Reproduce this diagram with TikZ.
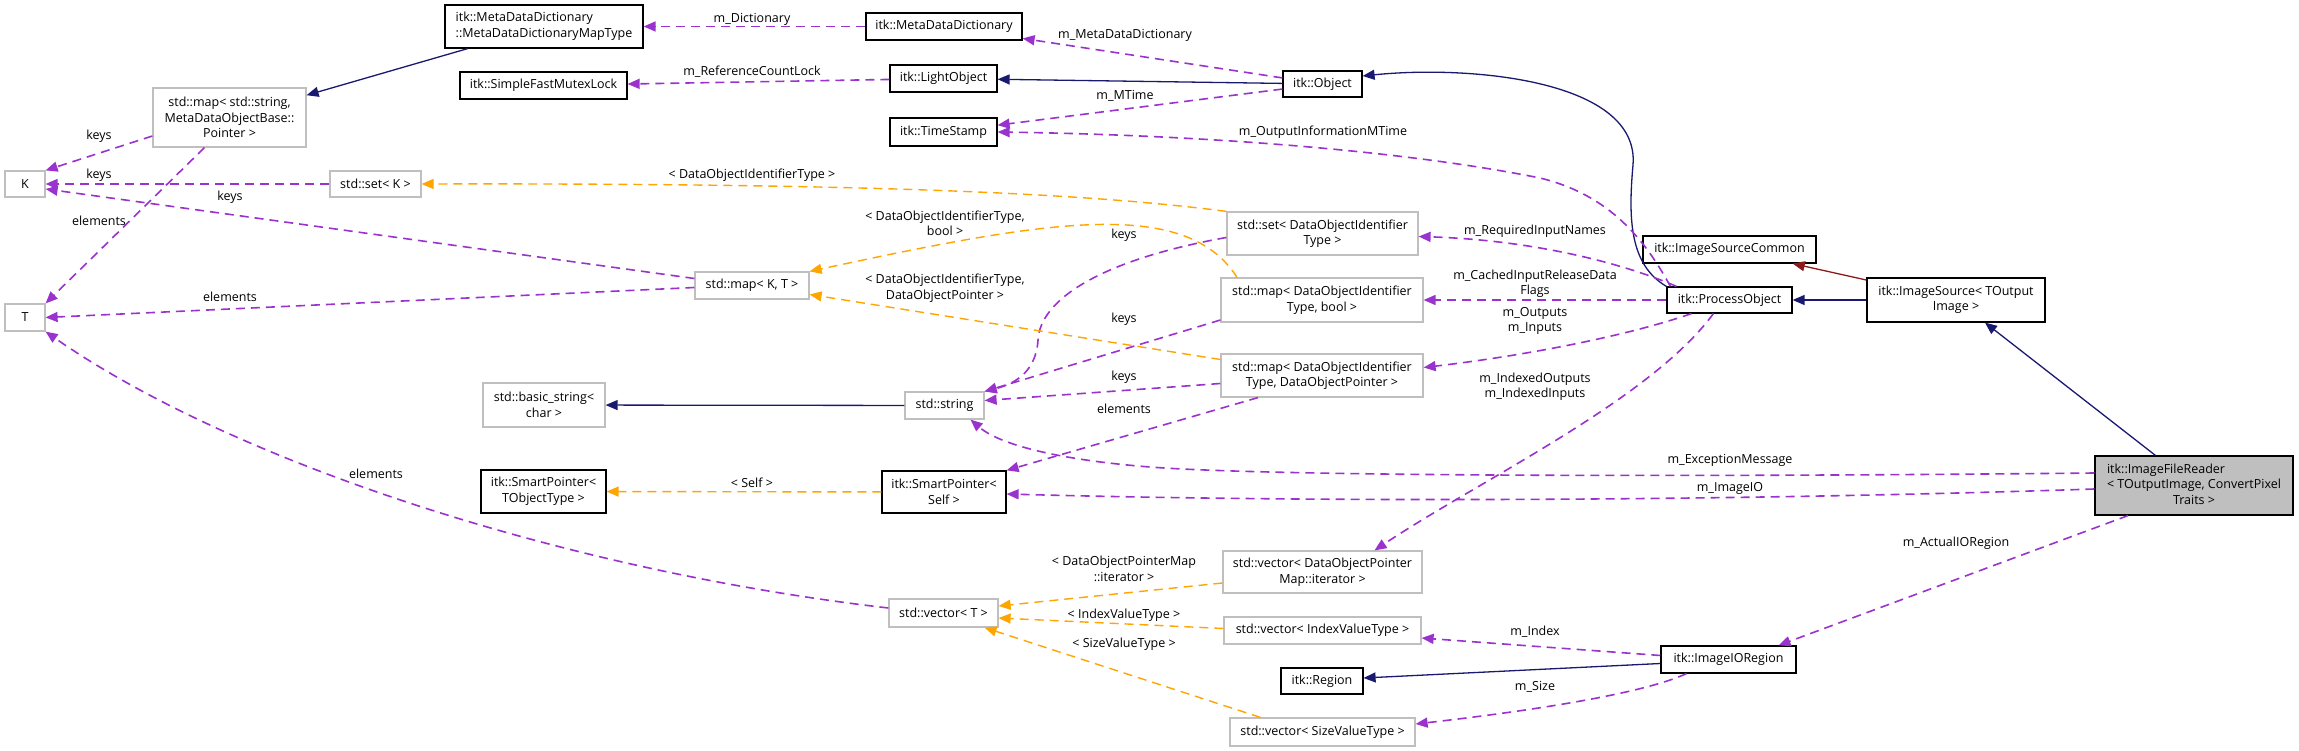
\documentclass[tikz,border=0pt]{standalone}
\usepackage{fontspec}
\setmainfont{Open Sans}
\usetikzlibrary{arrows.meta}
\definecolor{mbr}{HTML}{9A32CD}
\definecolor{tmplc}{HTML}{FFA500}
\definecolor{inhc}{HTML}{191970}
\definecolor{privc}{HTML}{8B1A1A}
\definecolor{gline}{HTML}{BFBFBF}
\newcommand{\dfont}{\fontsize{12.5}{15.5}\selectfont}

\begin{document}
\begin{tikzpicture}[x=1pt, y=-1pt,
    every node/.style={font=\dfont},
    doc/.style={rectangle, draw=black, line width=1.2pt, fill=white,
      inner sep=2pt, align=center},
    undoc/.style={doc, draw=gline},
    lbl/.style={inner sep=0pt, align=center},
    mem/.style={-{Triangle[length=12pt,width=10pt]}, draw=mbr,
      line width=1.6pt, dash pattern=on 9pt off 6pt},
    tmpl/.style={mem, draw=tmplc, line width=1.4pt},
    inh/.style={-{Triangle[length=12pt,width=10pt]}, draw=inhc, line width=1.3pt},
    priv/.style={inh, draw=privc}]
  \fill[white] (0,0) rectangle (2299,751);
  \useasboundingbox (0,0) rectangle (2299,751);

  % classes
  \node[doc, align=left, minimum width=198pt, minimum height=43pt] (mapType) at (544,26.5)
    {itk::MetaDataDictionary\\::MetaDataDictionaryMapType};
  \node[doc, minimum width=156pt, minimum height=27pt] (mdd) at (944,26.5) {itk::MetaDataDictionary};
  \node[doc, minimum width=167pt, minimum height=27pt] (mutex) at (543.5,85.5) {itk::SimpleFastMutexLock};
  \node[doc, minimum width=107pt, minimum height=27pt] (light) at (943.5,78.5) {itk::LightObject};
  \node[doc, minimum width=79pt, minimum height=26pt] (object) at (1322.5,84) {itk::Object};
  \node[doc, minimum width=107pt, minimum height=28pt] (stamp) at (943.5,132) {itk::TimeStamp};
  \node[undoc, minimum width=153pt, minimum height=59pt] (strmap) at (229.5,117.5)
    {std::map< std::string,\\MetaDataObjectBase::\\Pointer >};
  \node[undoc, minimum width=40pt, minimum height=26pt] (K) at (25,184) {K};
  \node[undoc, minimum width=91pt, minimum height=26pt] (setK) at (375.5,184) {std::set< K >};
  \node[undoc, minimum width=40pt, minimum height=27pt] (T) at (25,317.5) {T};
  \node[undoc, minimum width=114pt, minimum height=27pt] (mapKT) at (752,285.5) {std::map< K, T >};
  \node[undoc, minimum width=191pt, minimum height=43pt] (setId) at (1322.5,233.5)
    {std::set< DataObjectIdentifier\\Type >};
  \node[undoc, minimum width=202pt, minimum height=44pt] (mapBool) at (1322,300)
    {std::map< DataObjectIdentifier\\Type, bool >};
  \node[undoc, minimum width=202pt, minimum height=43pt] (mapPtr) at (1322,375.5)
    {std::map< DataObjectIdentifier\\Type, DataObjectPointer >};
  \node[doc, minimum width=173pt, minimum height=27pt] (isCommon) at (1729.5,249.5) {itk::ImageSourceCommon};
  \node[doc, minimum width=125pt, minimum height=26pt] (process) at (1729.5,300) {itk::ProcessObject};
  \node[doc, minimum width=178pt, minimum height=44pt] (source) at (1956,300)
    {itk::ImageSource< TOutput\\Image >};
  \node[undoc, minimum width=122pt, minimum height=44pt] (basicStr) at (544,405)
    {std::basic\_string<\\char >};
  \node[doc, minimum width=125pt, minimum height=43pt] (spT) at (543.5,491.5)
    {itk::SmartPointer<\\TObjectType >};
  \node[undoc, minimum width=79pt, minimum height=27pt] (string) at (944.5,405.5) {std::string};
  \node[doc, minimum width=124pt, minimum height=42pt] (spSelf) at (944,492)
    {itk::SmartPointer<\\Self >};
  \node[undoc, minimum width=199pt, minimum height=42pt] (vecIter) at (1322.5,572)
    {std::vector< DataObjectPointer\\Map::iterator >};
  \node[undoc, minimum width=109pt, minimum height=28pt] (vecT) at (943.5,613) {std::vector< T >};
  \node[undoc, minimum width=197pt, minimum height=27pt] (vecIdx) at (1322.5,630.5)
    {std::vector< IndexValueType >};
  \node[doc, minimum width=82pt, minimum height=26pt] (region) at (1322,681) {itk::Region};
  \node[undoc, minimum width=185pt, minimum height=28pt] (vecSize) at (1322.5,732)
    {std::vector< SizeValueType >};
  \node[doc, fill=gline, minimum width=198pt, minimum height=59pt] (reader) at (2194,485.5)
    {\begin{tabular}{@{}l@{}}itk::ImageFileReader\\< TOutputImage, ConvertPixel\\
     \multicolumn{1}{@{}c@{}}{Traits >}\end{tabular}};
  \node[doc, minimum width=135pt, minimum height=27pt] (ioRegion) at (1728.5,659.5) {itk::ImageIORegion};

  % inheritance
  \draw[inh] (mapType) -- (strmap);
  \draw[inh] (object) -- (light);
  \draw[inh] (process.north west) .. controls (1630,265) and (1628,220) .. (1633,165)
    .. controls (1640,80) and (1470,65) .. ([yshift=8pt]object.east);
  \draw[inh] (source) -- (process);
  \draw[priv] (source) -- (isCommon);
  \draw[inh] (reader) -- (source);
  \draw[inh] (string) -- (basicStr);
  \draw[inh] ([yshift=-4pt]ioRegion.west) -- ([yshift=3pt]region.east);

  % members
  \draw[mem] (mdd) -- (mapType);
  \draw[mem] (object) -- (mdd);
  \draw[mem] (light) -- (mutex);
  \draw[mem] (object) -- (stamp);
  \draw[mem] ([xshift=4pt]process.north west) .. controls (1645,240) and (1610,195) .. (1540,178)
    .. controls (1400,150) and (1200,135) .. (stamp.east);
  \draw[mem] ([xshift=10pt]process.north west) .. controls (1620,262) and (1530,240)
    .. ([yshift=-3pt]setId.east);
  \draw[mem] (process) -- (mapBool);
  \draw[mem] ([xshift=25pt]process.south west) .. controls (1630,335) and (1530,355)
    .. ([yshift=8pt]mapPtr.east);
  \draw[mem] ([xshift=47pt]process.south west) .. controls (1650,400) and (1480,480)
    .. ([xshift=52pt]vecIter.north);
  \draw[mem] (setK) -- (K);
  \draw[mem] ([yshift=-18.5pt]strmap.west) -- (K.north east);
  \draw[mem] ([xshift=-25pt]strmap.south) -- (T.north east);
  \draw[mem] ([yshift=7pt]mapKT.west) -- ([yshift=-5pt]K.east);
  \draw[mem] ([yshift=-2pt]mapKT.west) -- (T.east);
  \draw[mem] ([yshift=5pt]vecT.west) .. controls (560,570) and (230,460) .. (T.south east);
  \draw[mem] ([yshift=-4pt]setId.west) .. controls (1100,260) and (1040,300) .. (1038,340)
    .. controls (1036,375) and (1010,385) .. (string.north east);
  \draw[mem] ([yshift=-20pt]mapBool.west) -- (string.north east);
  \draw[mem] ([yshift=-8pt]mapPtr.west) -- ([yshift=5pt]string.east);
  \draw[mem] ([xshift=-64pt]mapPtr.south) -- (spSelf.north east);
  \draw[mem] ([yshift=12.5pt]reader.west) .. controls (1600,478) and (1250,475) .. (1150,467)
    .. controls (1060,460) and (1000,445) .. ([xshift=26pt]string.south);
  \draw[mem] ([yshift=-3.5pt]reader.west) .. controls (1700,502) and (1300,502)
    .. ([yshift=-2pt]spSelf.east);
  \draw[mem] ([xshift=-66pt]reader.south) -- ([xshift=50pt]ioRegion.north);
  \draw[mem] ([yshift=4pt]ioRegion.west) -- ([yshift=-7.5pt]vecIdx.east);
  \draw[mem] ([xshift=-42pt]ioRegion.south) .. controls (1640,695) and (1520,712)
    .. ([yshift=8pt]vecSize.east);

  % template instances
  \draw[tmpl] (setId.north west) .. controls (1100,195) and (900,183) .. (setK.east);
  \draw[tmpl] ([xshift=-85pt]mapBool.north) .. controls (1185,195) and (1040,222) .. (mapKT.north east);
  \draw[tmpl] ([yshift=16pt]mapPtr.west) -- ([yshift=-9pt]mapKT.east);
  \draw[tmpl] (spSelf) -- (spT);
  \draw[tmpl] ([yshift=-11pt]vecIter.west) -- ([yshift=7pt]vecT.east);
  \draw[tmpl] ([yshift=2pt]vecIdx.west) -- ([yshift=-5pt]vecT.east);
  \draw[tmpl] ([xshift=-62pt]vecSize.north) -- ([xshift=41pt]vecT.south);

  % edge labels
  \node[lbl] (lDict) at (752,19) {m\_Dictionary};
  \node[lbl] (lMdd) at (1125,35) {m\_MetaDataDictionary};
  \node[lbl] (lLock) at (752,72) {m\_ReferenceCountLock};
  \node[lbl] (lMTime) at (1125,96) {m\_MTime};
  \node[lbl] (lOutMTime) at (1323,132) {m\_OutputInformationMTime};
  \node[lbl] (lReq) at (1535,231) {m\_RequiredInputNames};
  \node[lbl] (lCached) at (1535,284) {m\_CachedInputReleaseData\\Flags};
  \node[lbl] (lOuts) at (1535,321) {m\_Outputs\\m\_Inputs};
  \node[lbl] (lIdxOuts) at (1535,387) {m\_IndexedOutputs\\m\_IndexedInputs};
  \node[lbl] (lSetKkeys) at (99,175) {keys};
  \node[lbl] (lStrKeys) at (99,136) {keys};
  \node[lbl] (lStrElem) at (99,221) {elements};
  \node[lbl] (lKTkeys) at (230,197) {keys};
  \node[lbl] (lKTelem) at (230,297) {elements};
  \node[lbl] (lVecElem) at (376,474) {elements};
  \node[lbl] (lSetId) at (752,175) {< DataObjectIdentifierType >};
  \node[lbl] (lBool) at (945,223.5) {< DataObjectIdentifierType,\\bool >};
  \node[lbl] (lPtr) at (945,288) {< DataObjectIdentifierType,\\DataObjectPointer >};
  \node[lbl] (lSetKeys) at (1124,235) {keys};
  \node[lbl] (lBoolKeys) at (1124,319) {keys};
  \node[lbl] (lPtrKeys) at (1124,377) {keys};
  \node[lbl] (lPtrElem) at (1124,409) {elements};
  \node[lbl] (lSelf) at (752,483) {< Self >};
  \node[lbl] (lExc) at (1730,460) {m\_ExceptionMessage};
  \node[lbl] (lIO) at (1730,488.5) {m\_ImageIO};
  \node[lbl] (lActual) at (1956,543) {m\_ActualIORegion};
  \node[lbl] (lIndex) at (1535,632) {m\_Index};
  \node[lbl] (lSize) at (1535,687) {m\_Size};
  \node[lbl] (lIter) at (1124,569) {< DataObjectPointerMap\\::iterator >};
  \node[lbl] (lIdxT) at (1124,615) {< IndexValueType >};
  \node[lbl] (lSizeT) at (1124,644) {< SizeValueType >};
\end{tikzpicture}
\end{document}
